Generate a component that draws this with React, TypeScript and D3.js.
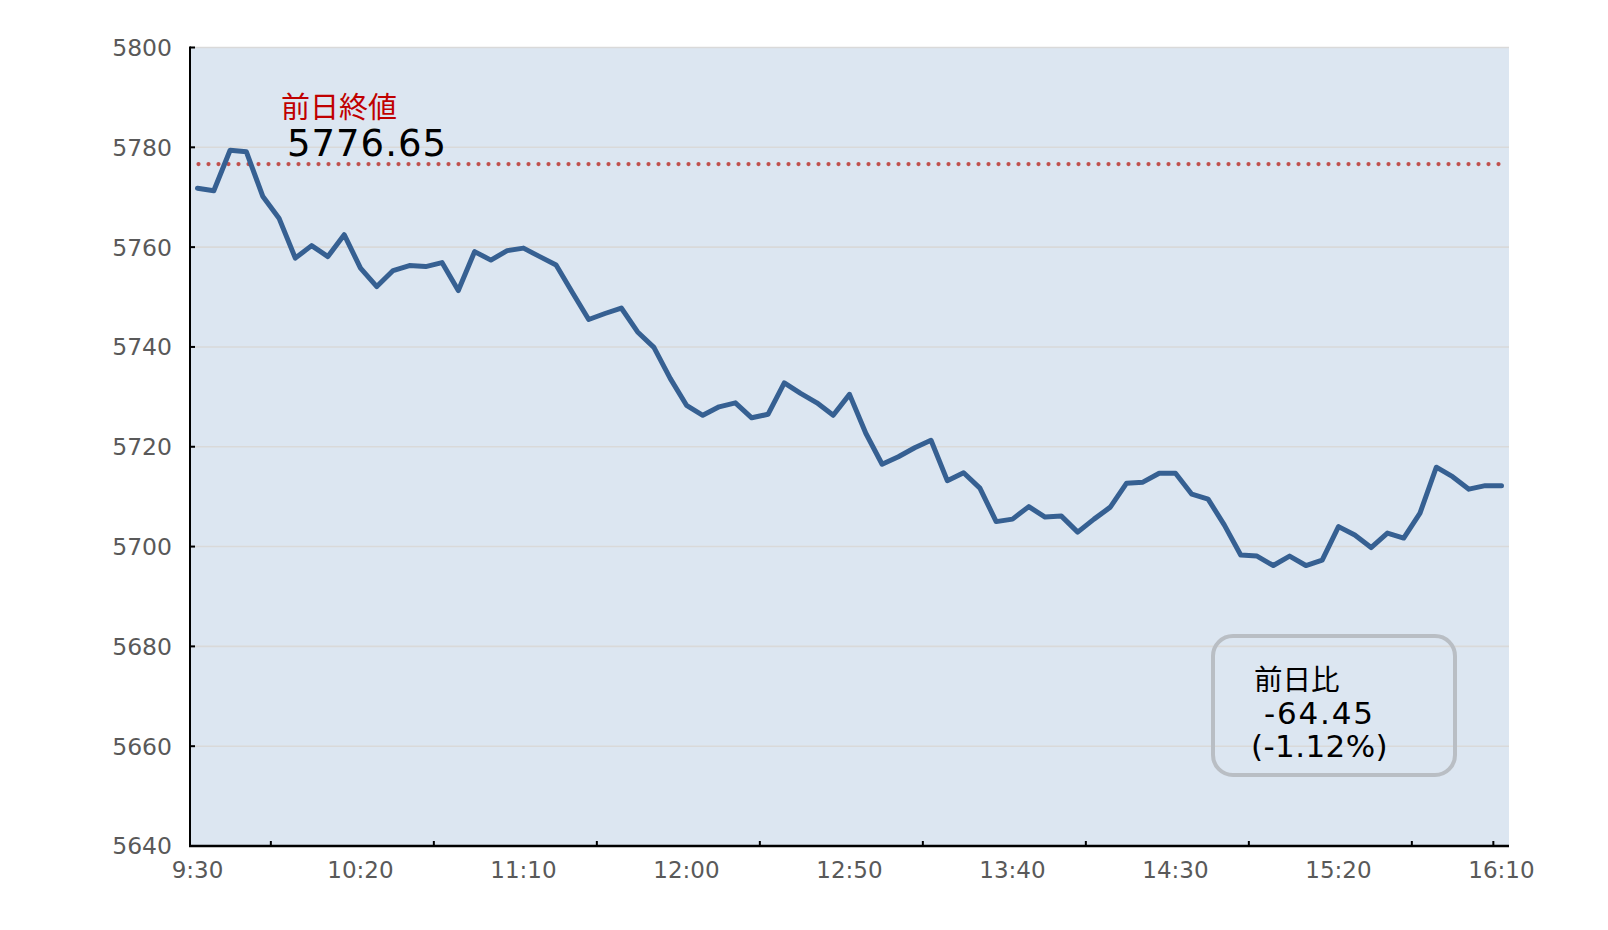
import React from "react";
import * as d3 from "d3";

// ---- data ----
const intervalMinutes = 5;
const prices: number[] = [
  5771.8, 5771.3, 5779.4, 5779.1, 5770.2, 5765.8, 5757.8, 5760.3, 5758.1, 5762.5,
  5755.8, 5752.1, 5755.3, 5756.3, 5756.1, 5756.9, 5751.3, 5759.1, 5757.4, 5759.3,
  5759.8, 5758.1, 5756.4, 5750.9, 5745.5, 5746.7, 5747.8, 5743.0, 5739.9, 5733.7,
  5728.3, 5726.3, 5728.0, 5728.8, 5725.8, 5726.5, 5732.8, 5730.7, 5728.8, 5726.3,
  5730.5, 5722.7, 5716.5, 5718.0, 5719.8, 5721.3, 5713.2, 5714.8, 5711.7, 5705.0,
  5705.5, 5708.0, 5705.9, 5706.1, 5702.9, 5705.5, 5707.9, 5712.7, 5712.9, 5714.7,
  5714.7, 5710.5, 5709.5, 5704.3, 5698.3, 5698.1, 5696.2, 5698.1, 5696.2, 5697.3,
  5704.0, 5702.3, 5699.8, 5702.7, 5701.7, 5706.7, 5715.9, 5714.0, 5711.5, 5712.2,
  5712.2,
];
const prevClose = 5776.65;
const prevCloseLabel = "前日終値";
const changeLabel = "前日比";
const changeValue = "-64.45";
const changePct = "(-1.12%)";

const xLabels = ["9:30", "10:20", "11:10", "12:00", "12:50", "13:40", "14:30", "15:20", "16:10"];
const xLabelMinutes = [0, 50, 100, 150, 200, 250, 300, 350, 400];
const xTickMinutes = [22.5, 72.5, 122.5, 172.5, 222.5, 272.5, 322.5, 372.5, 397.5];
const yTicks = [5640, 5660, 5680, 5700, 5720, 5740, 5760, 5780, 5800];

// ---- layout ----
const W = 1608;
const H = 930;
const plotLeft = 190;
const plotRight = 1509;
const plotTop = 47.5;
const plotBottom = 846;

const NUM_FONT = "'DejaVu Sans', Verdana, sans-serif";
const CJK_FONT = "'Noto Sans CJK JP', 'Noto Sans', sans-serif";

export default function App() {
  const x = d3.scaleLinear().domain([0, 400]).range([197.5, 1501.5]);
  const y = d3.scaleLinear().domain([5640, 5800]).range([plotBottom, plotTop]);

  const pts = prices.map((v, i) => [i * intervalMinutes, v] as [number, number]);
  const line = d3
    .line<[number, number]>()
    .x((d) => x(d[0]))
    .y((d) => y(d[1]));

  const yPrev = y(prevClose);

  return (
    <svg
      width={W}
      height={H}
      style={{ position: "absolute", left: 0, top: 0, background: "#ffffff" }}
    >
      <rect x={plotLeft} y={plotTop} width={plotRight - plotLeft} height={plotBottom - plotTop} fill="#dce6f1" />
      {yTicks.map((t) => (
        <line key={"g" + t} x1={plotLeft} x2={plotRight} y1={y(t)} y2={y(t)} stroke="#d9d9d9" strokeWidth={1.6} />
      ))}
      {/* y axis */}
      <line x1={plotLeft} x2={plotLeft} y1={plotTop - 1} y2={plotBottom} stroke="#000" strokeWidth={2} />
      {yTicks.map((t) => (
        <line key={"yt" + t} x1={plotLeft} x2={plotLeft + 5} y1={y(t)} y2={y(t)} stroke="#000" strokeWidth={2} />
      ))}
      {yTicks.map((t) => (
        <text
          key={"yl" + t}
          x={172}
          y={y(t)}
          dy="0.36em"
          textAnchor="end"
          fontFamily={NUM_FONT}
          fontSize={23.5}
          fill="#595959"
        >
          {t}
        </text>
      ))}
      {/* x axis */}
      <line x1={plotLeft - 1} x2={plotRight} y1={plotBottom} y2={plotBottom} stroke="#000" strokeWidth={2.6} />
      {xTickMinutes.map((m) => (
        <line key={"xt" + m} x1={x(m)} x2={x(m)} y1={plotBottom} y2={plotBottom - 5} stroke="#000" strokeWidth={2} />
      ))}
      {xLabels.map((l, i) => (
        <text
          key={"xl" + l}
          x={x(xLabelMinutes[i])}
          y={878}
          textAnchor="middle"
          fontFamily={NUM_FONT}
          fontSize={23}
          fill="#595959"
        >
          {l}
        </text>
      ))}
      {/* previous close dotted line */}
      <line
        x1={x(0) + 1}
        x2={x(400)}
        y1={yPrev}
        y2={yPrev}
        stroke="#c0504d"
        strokeWidth={4.2}
        strokeLinecap="round"
        strokeDasharray="0 10"
      />
      {/* price line */}
      <path
        d={line(pts) || ""}
        fill="none"
        stroke="#366092"
        strokeWidth={5}
        strokeLinejoin="round"
        strokeLinecap="round"
      />
      {/* annotations */}
      <text x={281} y={118} fontFamily={CJK_FONT} fontSize={29} fill="#c00000">
        {prevCloseLabel}
      </text>
      <text x={287} y={156} fontFamily={NUM_FONT} fontSize={37} letterSpacing={1} fill="#000">
        {prevClose.toFixed(2)}
      </text>
      <rect
        x={1213}
        y={636}
        width={242}
        height={139}
        rx={20}
        ry={20}
        fill="none"
        stroke="#b9bec4"
        strokeWidth={4}
      />
      <text x={1254} y={690} fontFamily={CJK_FONT} fontSize={28.5} fill="#000">
        {changeLabel}
      </text>
      <text x={1264} y={724} fontFamily={NUM_FONT} fontSize={31} letterSpacing={1.8} fill="#000">
        {changeValue}
      </text>
      <text x={1251} y={757} fontFamily={NUM_FONT} fontSize={31} letterSpacing={0.4} fill="#000">
        {changePct}
      </text>
    </svg>
  );
}
